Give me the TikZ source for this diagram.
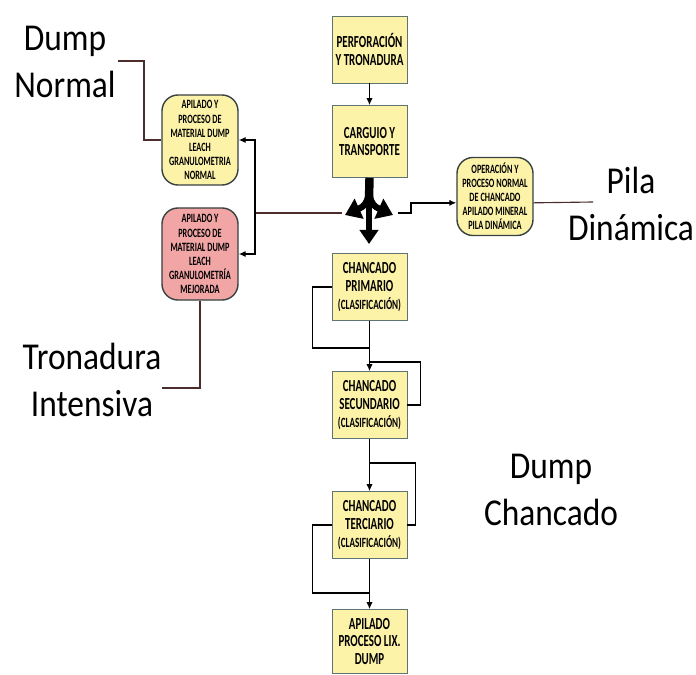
\documentclass[tikz,border=0pt]{standalone}
\usepackage{fontspec}
\setmainfont{Carlito}
\newfontfamily\boxfont[FakeStretch=0.65]{Carlito}
\newfontfamily\lblfont[FakeStretch=0.88]{Carlito}
\usetikzlibrary{arrows.meta}
\definecolor{boxyellow}{RGB}{252,242,168}
\definecolor{boxred}{RGB}{242,165,165}
\definecolor{boxline}{RGB}{95,115,115}
\definecolor{rndline}{RGB}{55,65,65}
\definecolor{lblline}{RGB}{75,45,45}
\newcommand{\clas}{{\fontsize{10}{12}\selectfont (CLASIFICACIÓN)}}
\tikzset{
  stage/.style={draw=boxline, fill=boxyellow, minimum width=1.875cm, minimum height=1.675cm,
    inner sep=1pt, align=center, font=\boxfont\bfseries\fontsize{12}{12.6}\selectfont},
  pile/.style={draw=rndline, line width=1pt, fill=boxyellow, rounded corners=0.4cm,
    minimum width=1.9cm, inner sep=1pt, align=center, font=\boxfont\bfseries\fontsize{9}{10}\selectfont},
  tag/.style={align=center, font=\lblfont\fontsize{27}{34}\selectfont},
  flow/.style={-{Latex[length=5pt,width=4.5pt]}, line width=1pt},
  link/.style={line width=0.8pt, draw=lblline}
}

\begin{document}
\begin{tikzpicture}[x=0.025cm,y=-0.025cm]
\useasboundingbox (0,0) rectangle (696,675);
% main line
\node[stage] (perf) at (369.5,49.5) {PERFORACIÓN\\Y TRONADURA};
\node[stage,minimum height=1.8cm] (carg) at (369.5,141.5) {CARGUIO Y\\TRANSPORTE};
\node[stage] (prim) at (369.5,287) {CHANCADO\\PRIMARIO\\\clas};
\node[stage] (sec) at (369.5,405) {CHANCADO\\SECUNDARIO\\\clas};
\node[stage] (ter) at (369.5,525) {CHANCADO\\TERCIARIO\\\clas};
\node[stage,minimum height=1.6cm] (apil) at (369.5,641.5) {APILADO\\PROCESO LIX.\\DUMP};

% side piles
\node[pile,minimum height=2.25cm] (norm) at (200,140) {APILADO Y\\PROCESO DE\\MATERIAL DUMP\\LEACH\\GRANULOMETRIA\\NORMAL};
\node[pile,fill=boxred,minimum height=2.3cm] (mej) at (200,254) {APILADO Y\\PROCESO DE\\MATERIAL DUMP\\LEACH\\GRANULOMETRÍA\\MEJORADA};
\node[pile,minimum height=1.95cm] (pila) at (495,196.5) {OPERACIÓN Y\\PROCESO NORMAL\\DE CHANCADO\\APILADO MINERAL\\PILA DINÁMICA};

% labels
\node[tag] (lnorm) at (65,62) {Dump\\Normal};
\node[tag] (ltron) at (92,380) {Tronadura\\Intensiva};
\node[tag] (lpila) at (631,204) {Pila\\Dinámica};
\node[tag] (lchan) at (551,490) {Dump\\Chancado};

% splitter
\draw[line width=6pt] (carg.south) -- (369,200);
\draw[line width=4.5pt,-{Triangle[length=10pt,width=13pt]}] (369,196) -- (369,244);
\draw[line width=4.5pt,-{Triangle[length=11pt,width=15pt]}] (369,188) .. controls (369,203) and (363,207) .. (345,215);
\draw[line width=4.5pt,-{Triangle[length=11pt,width=15pt]}] (369,188) .. controls (369,203) and (375,207) .. (393,215);
\coordinate (sl) at (342,213);
\coordinate (sr) at (398,213);
\coordinate (jl) at (255,213);

\draw[flow] (perf) -- (carg);
\draw[line width=1pt,draw=lblline] (sl) -- (jl);
\draw[flow] (jl) |- (norm.east);
\draw[flow] (jl) |- (mej.east);
\draw[flow] (sr) -- ++(13,0) |- ([yshift=-4.5pt]pila.west);

% crushing circuit
\draw[flow] (prim) -- (sec);
\draw[line width=1pt] (prim.west) -- ++(-19,0) |- (369,348);
\draw[line width=1pt] (sec.east) -- ++(13,0) |- (369,362);
\draw[flow] (sec) -- (ter);
\draw[line width=1pt] (ter.east) -- ++(8,0) |- (369,463);
\draw[line width=1pt] (ter.west) -- ++(-19,0) |- (369,593);
\draw[flow] (ter) -- (apil);

% label leaders
\coordinate (dn) at (118,61);
\coordinate (ti) at (162,388);
\coordinate (pd) at (593,202);
\draw[link] (dn) -- (144,61) |- (norm.west);
\draw[link] (mej.south) |- (ti);
\draw[link] ([yshift=-4.5pt]pila.east) -- (pd);
\end{tikzpicture}
\end{document}
